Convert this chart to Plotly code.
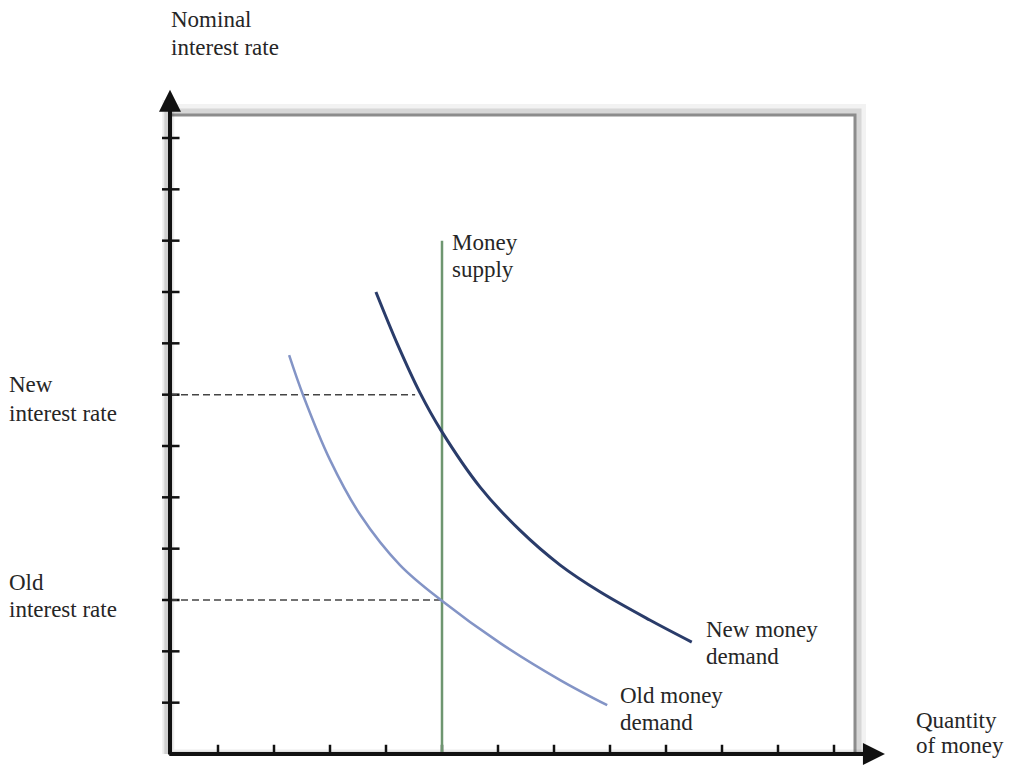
import plotly.graph_objects as go

# ---------------- data (in chart units) ----------------
x_ticks = [1, 2, 3, 4, 5, 6, 7, 8, 9, 10, 11, 12]
y_ticks = [1, 2, 3, 4, 5, 6, 7, 8, 9, 10, 11, 12]

new_demand_q = [3.82, 4.21, 4.61, 4.98, 5.68, 6.39, 7.11, 7.82, 8.71, 9.46]
new_demand_r = [9.00, 7.97, 7.03, 6.31, 5.20, 4.36, 3.68, 3.16, 2.61, 2.18]

old_demand_q = [2.27, 2.52, 3.00, 3.54, 4.25, 4.98, 6.04, 7.11, 7.95]
old_demand_r = [7.77, 6.99, 5.73, 4.66, 3.68, 3.00, 2.16, 1.44, 0.95]

money_supply_q = 5.0
money_supply_top = 10.0

new_rate = 7.0
new_rate_end_q = 4.52
old_rate = 3.0
old_rate_end_q = 5.0

axis_origin = 0.143
x_axis_end = 12.91
y_axis_end = 12.94
box_right = 12.375
box_top = 12.45

# text lines: (text, q, r) in chart units
label_lines = [
    ("Nominal", 0.14, 14.30), ("interest rate", 0.14, 13.77),
    ("New", -2.75, 7.19), ("interest rate", -2.75, 6.64),
    ("Old", -2.75, 3.35), ("interest rate", -2.75, 2.81),
    ("Money", 5.16, 9.955), ("supply", 5.16, 9.43),
    ("New money", 9.70, 2.416), ("demand", 9.70, 1.89),
    ("Old money", 8.16, 1.149), ("demand", 8.16, 0.623),
    ("Quantity", 13.45, 0.662), ("of money", 13.45, 0.156),
]

X_MAX = 15.0
Y_MAX = 13.5
FONT = dict(family="Liberation Serif, Times New Roman, serif", size=23, color="#262626")

fig = go.Figure()

# plot-area box with shadow (top and right edges)
for w, c, off in [(12, "rgba(0,0,0,0.05)", 5), (7, "rgba(0,0,0,0.11)", 3), (3, "#8c8c8c", 0)]:
    fig.add_trace(go.Scatter(
        x=[axis_origin, box_right + off / 56, box_right + off / 56],
        y=[box_top + off / 51.33, box_top + off / 51.33, 0],
        mode="lines", line=dict(color=c, width=w), hoverinfo="skip", showlegend=False))

# axis shadows
for w, c in [(12, "rgba(0,0,0,0.07)"), (8, "rgba(0,0,0,0.12)")]:
    fig.add_trace(go.Scatter(
        x=[axis_origin - 0.03, axis_origin - 0.03, x_axis_end - 0.2],
        y=[y_axis_end - 0.2, -0.03, -0.03],
        mode="lines", line=dict(color=c, width=w), hoverinfo="skip", showlegend=False))

# tick marks
tx, ty = [], []
for v in x_ticks:
    tx += [v, v, None]
    ty += [-0.18, 0.18, None]
for v in y_ticks:
    tx += [axis_origin - 0.17, axis_origin + 0.17, None]
    ty += [v, v, None]
fig.add_trace(go.Scatter(x=tx, y=ty, mode="lines", line=dict(color="#111111", width=2.5),
                         hoverinfo="skip", showlegend=False))

# dashed guide lines
for end_q, rate in [(new_rate_end_q, new_rate), (old_rate_end_q, old_rate)]:
    fig.add_trace(go.Scatter(x=[axis_origin, end_q], y=[rate, rate], mode="lines",
                             line=dict(color="#444444", width=1.5, dash="7px,4px"),
                             hoverinfo="skip", showlegend=False))

# money supply
fig.add_trace(go.Scatter(x=[money_supply_q, money_supply_q], y=[0, money_supply_top], mode="lines",
                         line=dict(color="#6e9670", width=2.5), hoverinfo="skip", showlegend=False))

# demand curves
fig.add_trace(go.Scatter(x=old_demand_q, y=old_demand_r, mode="lines",
                         line=dict(color="#8394c6", width=2.5, shape="spline", smoothing=1.0),
                         hoverinfo="skip", showlegend=False))
fig.add_trace(go.Scatter(x=new_demand_q, y=new_demand_r, mode="lines",
                         line=dict(color="#2a3c6a", width=3, shape="spline", smoothing=1.0),
                         hoverinfo="skip", showlegend=False))

annotations = [
    dict(x=axis_origin, y=y_axis_end, ax=axis_origin, ay=-0.04, xref="x", yref="y", axref="x", ayref="y",
         showarrow=True, arrowhead=2, arrowsize=1.1, arrowwidth=4, arrowcolor="#111111", text="", standoff=0),
    dict(x=x_axis_end, y=0, ax=axis_origin - 0.04, ay=0, xref="x", yref="y", axref="x", ayref="y",
         showarrow=True, arrowhead=2, arrowsize=1.1, arrowwidth=4, arrowcolor="#111111", text="", standoff=0),
]
for text, q, r in label_lines:
    annotations.append(dict(x=q / X_MAX, y=r / Y_MAX, xref="paper", yref="paper", text=text,
                            showarrow=False, xanchor="left", yanchor="middle", align="left",
                            borderpad=0, font=FONT))

fig.update_layout(
    width=1017, height=761,
    margin=dict(l=154, r=23, t=53, b=15),
    paper_bgcolor="white", plot_bgcolor="white",
    xaxis=dict(range=[0, X_MAX], visible=False, fixedrange=True),
    yaxis=dict(range=[0, Y_MAX], visible=False, fixedrange=True),
    annotations=annotations,
    showlegend=False,
)

fig.write_html("out.html")
